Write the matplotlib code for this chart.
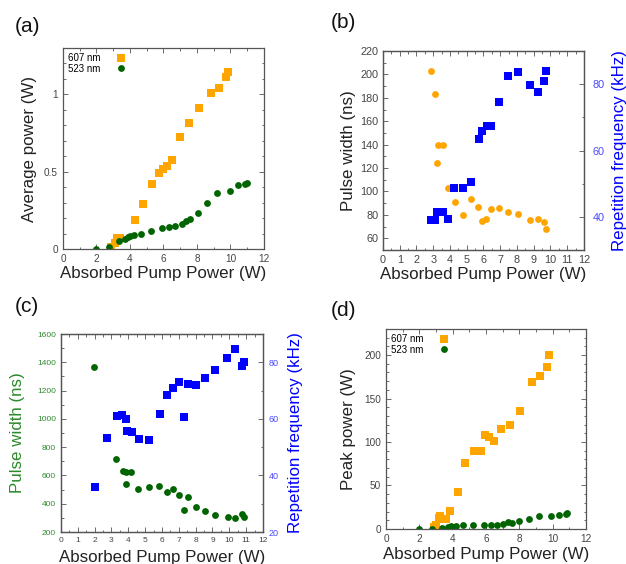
import matplotlib
matplotlib.use('Agg')
import matplotlib.pyplot as plt
from matplotlib.ticker import MultipleLocator

plt.rcParams['font.family'] = ['Liberation Sans', 'DejaVu Sans']

ORANGE = '#ffa500'
GREEN = '#006400'
BLUE = '#0000ff'
TICK_GRAY = '#444444'

## (a) average power vs absorbed pump power
a_607_x = [2.85, 3.1, 3.22, 3.38, 4.3, 4.8, 5.32, 5.76, 6.0, 6.24, 6.5, 6.96, 7.52, 8.12, 8.86, 9.32, 9.72, 9.86]
a_607_y = [0.01, 0.04, 0.07, 0.07, 0.185, 0.288, 0.42, 0.49, 0.52, 0.54, 0.574, 0.727, 0.813, 0.91, 1.01, 1.04, 1.112, 1.142]
a_523_x = [2.0, 2.72, 3.34, 3.7, 3.86, 4.0, 4.22, 4.64, 5.26, 5.92, 6.36, 6.7, 7.08, 7.36, 7.6, 8.06, 8.62, 9.22, 9.96, 10.44, 10.86, 11.0]
a_523_y = [0.0, 0.015, 0.05, 0.065, 0.075, 0.082, 0.09, 0.095, 0.118, 0.135, 0.14, 0.148, 0.163, 0.18, 0.194, 0.232, 0.3, 0.36, 0.376, 0.415, 0.42, 0.424]

## (b) 607 nm pulse width and repetition frequency
b_width_x = [2.84, 3.12, 3.28, 3.58, 3.22, 3.86, 4.28, 4.76, 5.28, 5.7, 5.94, 6.18, 6.44, 6.92, 7.46, 8.06, 8.78, 9.24, 9.64, 9.76]
b_width_y = [203, 183.5, 139.5, 140, 124, 102.6, 91, 80, 94, 87, 74.7, 76.7, 85, 85.5, 82.7, 80.4, 75.3, 76.4, 73.6, 68.2]
b_rep_x = [2.84, 3.12, 3.24, 3.34, 3.56, 3.86, 4.26, 4.76, 5.28, 5.72, 5.94, 6.2, 6.46, 6.92, 7.44, 8.04, 8.78, 9.24, 9.64, 9.76]
b_rep_y = [39.2, 39.2, 41.5, 41.5, 41.5, 39.5, 48.6, 48.6, 50.5, 63.6, 65.9, 67.4, 67.5, 74.5, 82.6, 83.7, 79.9, 77.7, 80.9, 84.1]

## (c) 523 nm pulse width and repetition frequency
c_width_x = [1.98, 3.29, 3.67, 3.87, 4.17, 3.87, 4.6, 5.22, 5.85, 6.29, 6.63, 6.99, 7.54, 7.28, 8.0, 8.55, 9.13, 9.9, 10.34, 10.75, 10.87]
c_width_y = [1369, 718, 635, 621, 623, 543, 506, 515, 522, 485, 503, 461, 447, 355, 374, 346, 322, 306, 296, 327, 303]
c_rep_x = [2.0, 2.72, 3.33, 3.65, 3.87, 3.91, 4.19, 4.62, 5.22, 5.87, 6.31, 6.63, 7.0, 7.3, 7.56, 8.02, 8.55, 9.15, 9.88, 10.34, 10.73, 10.87]
c_rep_y = [35.8, 53.4, 60.9, 61.4, 60.0, 55.6, 55.4, 52.9, 52.5, 61.6, 68.6, 71.1, 73.0, 60.8, 72.4, 72.0, 74.3, 77.4, 81.5, 84.6, 78.6, 80.2]

## (d) peak power
d_607_x = [2.86, 3.0, 3.16, 3.26, 3.4, 3.58, 3.86, 4.3, 4.76, 5.26, 5.72, 5.96, 6.2, 6.48, 6.9, 7.44, 8.04, 8.78, 9.24, 9.64, 9.76]
d_607_y = [2, 5, 12.3, 14.6, 11.5, 11.9, 20.3, 43, 75.6, 89.4, 89.8, 107.5, 106, 101, 114.8, 119.8, 135.5, 168.5, 176.2, 186.6, 199.6]
d_523_x = [2.0, 2.74, 3.34, 3.7, 3.88, 4.18, 4.62, 5.24, 5.86, 6.3, 6.64, 7.02, 7.3, 7.58, 8.0, 8.56, 9.16, 9.9, 10.36, 10.78, 10.86]
d_523_y = [0, 0.4, 1.5, 2.7, 3.5, 3.5, 4.2, 5, 5, 4.6, 4.6, 5.4, 8.4, 6.5, 8.8, 11.9, 14.6, 15.4, 16.5, 16.9, 18]

XLABEL = 'Absorbed Pump Power (W)'


def style(ax, fs, right=True):
    for s in ax.spines.values():
        s.set_color('#555555')
        s.set_linewidth(0.9)
    ax.tick_params(which='both', direction='in', top=True, right=right,
                   colors='#555555', labelcolor=TICK_GRAY, labelsize=fs, width=0.6)
    ax.tick_params(which='major', length=3.5, pad=3.5)
    ax.tick_params(which='minor', length=1.8)


def legend(ax):
    ax.legend(loc='upper left', frameon=False, markerfirst=False, fontsize=7,
              handletextpad=1.3, labelspacing=0.05, borderaxespad=0.35,
              handlelength=1.6, borderpad=0.2)


fig = plt.figure(figsize=(6.26, 5.64), dpi=100)

# (a)
ax = fig.add_axes([0.1006, 0.5585, 0.321, 0.3564])
ax.plot(a_607_x, a_607_y, 's', color=ORANGE, ms=5.2, mew=0, label='607 nm')
ax.plot(a_523_x, a_523_y, 'o', color=GREEN, ms=4.9, mew=0, label='523 nm')
ax.set_xlim(0, 12)
ax.set_ylim(0, 1.3)
ax.set_yticks([0, 0.5, 1])
ax.set_yticklabels(['0', '0.5', '1'])
ax.xaxis.set_major_locator(MultipleLocator(2))
ax.xaxis.set_minor_locator(MultipleLocator(1))
ax.yaxis.set_minor_locator(MultipleLocator(0.1))
style(ax, 7.2)
ax.set_xlabel(XLABEL, fontsize=12.2, color='#222222')
ax.set_ylabel('Average power (W)', fontsize=12.2, color='#222222')
ax.xaxis.set_label_coords(0.5, -0.085)
ax.yaxis.set_label_coords(-0.13, 0.5)
legend(ax)

# (b)
ax = fig.add_axes([0.6118, 0.5567, 0.321, 0.3528])
ax.plot(b_width_x, b_width_y, 'o', color=ORANGE, ms=4.9, mew=0)
ax.set_xlim(0, 12)
ax.set_ylim(50, 220)
ax.set_yticks(range(60, 221, 20))
ax.set_xticks(range(0, 13))
ax.xaxis.set_minor_locator(MultipleLocator(0.5))
ax.yaxis.set_minor_locator(MultipleLocator(10))
style(ax, 7.8, right=False)
ax.set_xlabel(XLABEL, fontsize=12.2, color='#222222')
ax.set_ylabel('Pulse width (ns)', fontsize=12.2, color='#222222')
ax.xaxis.set_label_coords(0.5, -0.085)
ax.yaxis.set_label_coords(-0.134, 0.5)
ax2 = ax.twinx()
ax2.plot(b_rep_x, b_rep_y, 's', color=BLUE, ms=5.2, mew=0)
ax2.set_ylim(30, 90)
ax2.set_yticks([40, 60, 80])
ax2.yaxis.set_minor_locator(MultipleLocator(10))
style(ax2, 7.8)
ax2.tick_params(labelcolor='#4a4aff', pad=6)
ax2.set_ylabel('Repetition frequency (kHz)', fontsize=12.2, color=BLUE)
ax2.yaxis.set_label_coords(1.14, 0.5)

# (c)
ax = fig.add_axes([0.0974, 0.0567, 0.3227, 0.351])
ax.plot(c_width_x, c_width_y, 'o', color=GREEN, ms=4.9, mew=0)
ax.set_xlim(0, 12)
ax.set_ylim(200, 1600)
ax.set_yticks(range(200, 1601, 200))
ax.set_xticks(range(0, 13))
ax.xaxis.set_minor_locator(MultipleLocator(0.5))
ax.yaxis.set_minor_locator(MultipleLocator(100))
style(ax, 6.0, right=False)
ax.tick_params(axis='y', labelcolor='#2f8a2f')
ax.set_xlabel(XLABEL, fontsize=12.2, color='#222222')
ax.set_ylabel('Pulse width (ns)', fontsize=12.2, color='#2a8a2a')
ax.xaxis.set_label_coords(0.5, -0.092)
ax.yaxis.set_label_coords(-0.178, 0.5)
ax2 = ax.twinx()
ax2.plot(c_rep_x, c_rep_y, 's', color=BLUE, ms=5.2, mew=0)
ax2.set_ylim(20, 90)
ax2.set_yticks([20, 40, 60, 80])
ax2.yaxis.set_minor_locator(MultipleLocator(10))
style(ax2, 6.5)
ax2.tick_params(labelcolor='#4a4aff', pad=4)
ax2.set_ylabel('Repetition frequency (kHz)', fontsize=12.2, color=BLUE)
ax2.yaxis.set_label_coords(1.125, 0.5)

# (d)
ax = fig.add_axes([0.6166, 0.0621, 0.3195, 0.3546])
ax.plot(d_607_x, d_607_y, 's', color=ORANGE, ms=5.2, mew=0, label='607 nm')
ax.plot(d_523_x, d_523_y, 'o', color=GREEN, ms=4.9, mew=0, label='523 nm')
ax.set_xlim(0, 12)
ax.set_ylim(0, 230)
ax.set_yticks([0, 50, 100, 150, 200])
ax.xaxis.set_major_locator(MultipleLocator(2))
ax.xaxis.set_minor_locator(MultipleLocator(1))
ax.yaxis.set_minor_locator(MultipleLocator(10))
style(ax, 7.2)
ax.set_xlabel(XLABEL, fontsize=12.2, color='#222222')
ax.set_ylabel('Peak power (W)', fontsize=12.2, color='#222222')
ax.xaxis.set_label_coords(0.5, -0.09)
ax.yaxis.set_label_coords(-0.15, 0.5)
legend(ax)

# panel letters
for x, y, s in [(28, 26, '(a)'), (343, 23, '(b)'), (27, 306, '(c)'), (343, 310, '(d)')]:
    fig.text(x / 626, 1 - y / 564, s, fontsize=15, ha='center', va='center', color='#111111')

fig.savefig('out.png', dpi=100)
